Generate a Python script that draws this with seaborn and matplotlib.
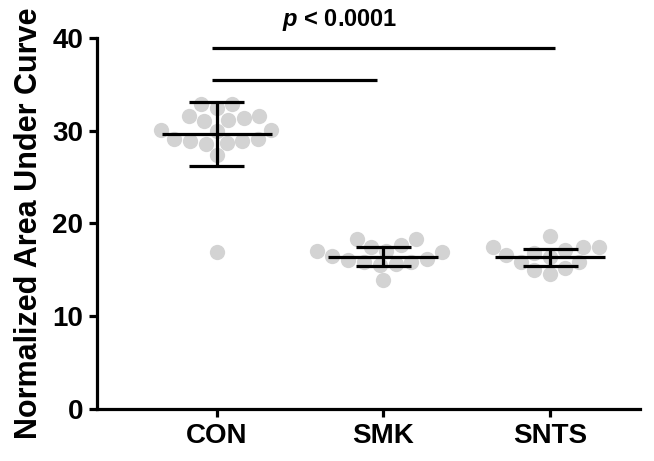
import numpy as np
import pandas as pd
import matplotlib
matplotlib.use("Agg")
import matplotlib.pyplot as plt
import seaborn as sns

groups = ["CON", "SMK", "SNTS"]
con_vals = [32.9, 32.9, 32.5, 31.4, 31.6, 31.6, 31.2, 31.0, 30.1, 30.0, 30.1,
            28.9, 29.1, 28.9, 28.6, 28.7, 29.1, 27.4, 16.9]
smk_vals = [18.3, 18.3, 17.0, 16.9, 17.7, 17.5, 17.0, 15.8, 16.1, 16.2, 16.5,
            15.6, 13.9, 15.5, 15.8]
snts_vals = [18.6, 17.1, 17.5, 17.5, 17.5, 16.8, 16.6, 15.9, 15.9, 14.6, 15.2,
             15.0, 16.4]
means = [29.6, 16.4, 16.35]
sds = [3.45, 1.03, 0.95]
yticks = [0, 10, 20, 30, 40]
ylabel = "Normalized Area Under Curve"
sig_text = " < 0.0001"

df = pd.DataFrame({
    "group": ["CON"] * len(con_vals) + ["SMK"] * len(smk_vals) + ["SNTS"] * len(snts_vals),
    "value": con_vals + smk_vals + snts_vals,
})

sns.set_style("ticks")
plt.rcParams["font.family"] = ["Liberation Sans", "DejaVu Sans"]
plt.rcParams["font.weight"] = "bold"
plt.rcParams["text.color"] = "black"
plt.rcParams["xtick.color"] = "black"
plt.rcParams["ytick.color"] = "black"
plt.rcParams["axes.labelcolor"] = "black"
plt.rcParams["mathtext.fontset"] = "custom"
plt.rcParams["mathtext.bfit"] = "Liberation Sans:bold:italic"
plt.rcParams["mathtext.it"] = "Liberation Sans:bold:italic"

fig = plt.figure(figsize=(6.54, 4.61), dpi=100)
ax = fig.add_axes([0.1483, 0.1128, 0.8303, 0.8048])

sns.swarmplot(data=df, x="group", y="value", order=groups, color="#D3D3D3",
              size=11, ax=ax, zorder=1, linewidth=0)

lw = 2.3
xs = np.arange(len(groups))
ax.hlines(means, xs - 0.33, xs + 0.33, color="black", lw=lw, zorder=3)
lo = np.array(means) - np.array(sds)
hi = np.array(means) + np.array(sds)
ax.vlines(xs, lo, hi, color="black", lw=lw, zorder=3)
ax.hlines(lo, xs - 0.165, xs + 0.165, color="black", lw=lw, zorder=3)
ax.hlines(hi, xs - 0.165, xs + 0.165, color="black", lw=lw, zorder=3)

# significance lines
ax.plot([-0.03, 2.03], [38.9, 38.9], color="black", lw=lw, clip_on=False,
        solid_capstyle="butt")
ax.plot([-0.03, 0.96], [35.5, 35.5], color="black", lw=lw, clip_on=False,
        solid_capstyle="butt")
ax.text(0.74, 41.9, r"$\it{p}$" + sig_text, ha="center", va="center",
        fontsize=17, fontweight="bold", color="black")

ax.set_xlim(-0.718, 2.54)
ax.set_ylim(0, 40)
ax.set_yticks(yticks)
ax.set_xlabel("")
ax.set_ylabel(ylabel, fontsize=22, fontweight="bold", labelpad=6, color="black")
ax.tick_params(axis="both", labelsize=20, width=lw, length=6, direction="out",
               color="black", labelcolor="black", pad=4)
for lab in ax.get_xticklabels() + ax.get_yticklabels():
    lab.set_fontweight("bold")
sns.despine(ax=ax)
for s in ["left", "bottom"]:
    ax.spines[s].set_linewidth(lw)
    ax.spines[s].set_color("black")

fig.savefig("out.png", dpi=100)
